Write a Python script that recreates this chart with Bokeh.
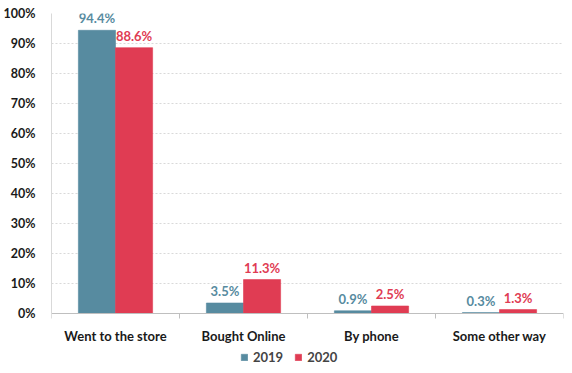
from bokeh.plotting import figure
from bokeh.models import (ColumnDataSource, Range1d, FixedTicker, NumeralTickFormatter,
                          Legend, LegendItem, LabelSet)
from bokeh.core.properties import value
from bokeh.embed import file_html
from bokeh.resources import INLINE

categories = ["Went to the store", "Bought Online", "By phone", "Some other way"]
series_names = ["2019", "2020"]
values_2019 = [0.944, 0.035, 0.009, 0.003]
values_2020 = [0.886, 0.113, 0.025, 0.013]
y_ticks = [0.0, 0.1, 0.2, 0.3, 0.4, 0.5, 0.6, 0.7, 0.8, 0.9, 1.0]

colors = ["#578BA0", "#E03C53"]
FONT = "Lato"
bar_w = 0.29

# frame spans 13..368 px; 0..1 maps to 13..313 px, the rest below holds axis labels & legend
y_lo = -55 / 300

p = figure(width=566, height=370, output_backend="svg", toolbar_location=None,
           title=None,
           x_range=Range1d(0, len(categories)), y_range=Range1d(y_lo, 1.0),
           min_border_left=49, min_border_right=3, min_border_top=13, min_border_bottom=2)
p.outline_line_color = None

centers = [i + 0.5 for i in range(len(categories))]
renderers = []
for k, (vals, col) in enumerate(zip([values_2019, values_2020], colors)):
    off = (k - 0.5) * bar_w
    xs = [c + off for c in centers]
    src = ColumnDataSource(dict(x=xs, top=vals,
                                lab=[f"{v*100:.1f}%" for v in vals]))
    r = p.vbar(x="x", top="top", bottom=0, width=bar_w, source=src, fill_color=col,
               line_color=col, line_alpha=0.6, line_width=1)
    renderers.append(r)
    ls = LabelSet(x="x", y="top", text="lab", source=src, text_align="center",
                  text_baseline="bottom", y_offset=4, text_color=col,
                  text_font=value(FONT), text_font_style="bold", text_font_size="13px")
    p.add_layout(ls)

# x axis
p.xaxis.fixed_location = 0
p.xaxis.ticker = FixedTicker(ticks=centers, minor_ticks=list(range(len(categories) + 1)))
p.xaxis.major_label_overrides = {c: n for c, n in zip(centers, categories)}
p.xaxis.major_tick_line_color = None
p.xaxis.minor_tick_line_color = "#BFBFBF"
p.xaxis.minor_tick_out = 5
p.xaxis.minor_tick_in = 0
p.xaxis.axis_line_color = "#BFBFBF"
p.xaxis.major_label_text_font = FONT
p.xaxis.major_label_text_font_style = "bold"
p.xaxis.major_label_text_font_size = "13px"
p.xaxis.major_label_text_color = "#1a1a1a"
p.xaxis.major_label_standoff = 8
p.xgrid.grid_line_color = None

# y axis
p.yaxis.ticker = FixedTicker(ticks=y_ticks)
p.yaxis.bounds = (0, 1.0)
p.yaxis.formatter = NumeralTickFormatter(format="0%")
p.yaxis.major_tick_line_color = None
p.yaxis.minor_tick_line_color = None
p.yaxis.axis_line_color = "#D9D9D9"
p.yaxis.major_label_text_font = FONT
p.yaxis.major_label_text_font_style = "bold"
p.yaxis.major_label_text_font_size = "12.5px"
p.yaxis.major_label_text_color = "#1a1a1a"
p.yaxis.major_label_standoff = 10
p.ygrid.grid_line_color = "#D9D9D9"
p.ygrid.grid_line_dash = "2 2"

legend = Legend(items=[LegendItem(label=n, renderers=[r]) for n, r in zip(series_names, renderers)],
                orientation="horizontal", location=(189, 3),
                glyph_width=8, glyph_height=8, label_text_font=FONT,
                label_text_font_style="bold", label_text_font_size="13px",
                border_line_color=None, background_fill_alpha=0, spacing=11,
                label_standoff=5, padding=0, margin=0)
p.add_layout(legend)

open("out.html", "w").write(file_html(p, INLINE))
